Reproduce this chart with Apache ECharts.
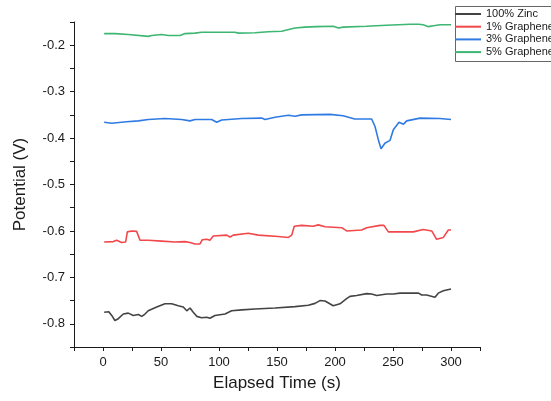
<!DOCTYPE html>
<html>
<head>
<meta charset="utf-8">
<script src="https://cdn.jsdelivr.net/npm/echarts@6/dist/echarts.min.js"></script>
<style>html,body{margin:0;padding:0;background:#fff;}#c{width:551px;height:401px;}</style>
</head>
<body>
<div id="c"></div>
<script>
var seriesNames = ['100% Zinc', '1% Graphene', '3% Graphene', '5% Graphene'];
var xTickLabels = [0, 50, 100, 150, 200, 250, 300];
var yTickLabels = [-0.8, -0.7, -0.6, -0.5, -0.4, -0.3, -0.2];

var zincT = [1, 5, 7.5, 10.3, 13.2, 17.5, 21.8, 26.1, 30.5, 33.4, 36.2, 39, 46.3, 53.4, 59.2, 64.9, 69.2, 72.2, 75, 77.8, 80.8, 85, 89.4, 92.2, 96.5, 105.2, 110.9, 119.6, 131, 148.3, 165.5, 177, 182.8, 187, 191.4, 198.5, 204.3, 210, 212.9, 218.7, 227.3, 231.6, 236, 244.5, 250.3, 256, 272, 274.7, 279, 286.2, 289, 293.4, 300];
var zincV = [-0.775, -0.774, -0.782, -0.793, -0.789, -0.779, -0.777, -0.782, -0.780, -0.784, -0.779, -0.772, -0.764, -0.757, -0.757, -0.761, -0.764, -0.772, -0.766, -0.775, -0.784, -0.787, -0.786, -0.788, -0.782, -0.779, -0.772, -0.770, -0.768, -0.766, -0.763, -0.760, -0.756, -0.750, -0.751, -0.761, -0.757, -0.746, -0.741, -0.739, -0.735, -0.736, -0.739, -0.736, -0.736, -0.734, -0.734, -0.738, -0.738, -0.743, -0.734, -0.729, -0.725];

var g1T = [1, 8.9, 11.8, 16, 19.5, 21, 24.7, 29, 31.9, 39, 50.6, 62, 70.7, 75, 79.3, 83.6, 85.6, 89.4, 92.2, 95.1, 106.6, 109.5, 112.3, 125.3, 133.9, 151, 159.8, 162.7, 164.9, 171.3, 181.3, 185.6, 191.4, 205.8, 210, 223, 227.3, 238.8, 242.2, 246, 256, 267.5, 276, 283.4, 287.6, 293.4, 297.7, 300];
var g1V = [-0.624, -0.623, -0.620, -0.625, -0.624, -0.602, -0.600, -0.601, -0.620, -0.620, -0.622, -0.624, -0.623, -0.625, -0.628, -0.628, -0.619, -0.618, -0.620, -0.611, -0.609, -0.613, -0.609, -0.605, -0.609, -0.612, -0.614, -0.609, -0.590, -0.588, -0.590, -0.587, -0.591, -0.593, -0.600, -0.598, -0.593, -0.588, -0.588, -0.602, -0.602, -0.602, -0.597, -0.600, -0.618, -0.614, -0.598, -0.598];

var g3T = [1, 7.5, 16, 20.4, 30.5, 39, 53.4, 67.8, 75, 79.3, 93.7, 98, 102.3, 119.6, 136.8, 139.7, 148.3, 159.8, 165.5, 171.3, 195.7, 207, 217, 231.6, 234.5, 237.4, 239.7, 243, 247.4, 250.3, 255.2, 259, 261.8, 273.3, 290.5, 300];
var g3V = [-0.366, -0.368, -0.366, -0.365, -0.363, -0.360, -0.358, -0.360, -0.363, -0.360, -0.360, -0.366, -0.361, -0.358, -0.357, -0.360, -0.355, -0.351, -0.353, -0.350, -0.349, -0.352, -0.359, -0.359, -0.375, -0.404, -0.423, -0.411, -0.405, -0.382, -0.366, -0.370, -0.363, -0.357, -0.358, -0.360];

var g5T = [1, 10.3, 21.8, 39, 42, 50.6, 56.3, 66.4, 70.7, 79.3, 85, 96.5, 113.8, 116.6, 131, 142.5, 154, 165.5, 174, 184, 198.5, 203, 207, 227, 244.5, 264.7, 272, 276, 280.5, 285, 290.5, 300];
var g5V = [-0.175, -0.175, -0.177, -0.181, -0.179, -0.177, -0.179, -0.179, -0.175, -0.174, -0.172, -0.172, -0.172, -0.174, -0.173, -0.171, -0.170, -0.163, -0.161, -0.160, -0.159, -0.163, -0.161, -0.159, -0.157, -0.155, -0.155, -0.156, -0.160, -0.158, -0.156, -0.156];

var colors = ['#444444', '#f0484b', '#2f7be3', '#3db672'];

function zip(t, v) { return t.map(function (x, i) { return [x, v[i]]; }); }
var allT = [zincT, g1T, g3T, g5T];
var allV = [zincV, g1V, g3V, g5V];

var chart = echarts.init(document.getElementById('c'), null, { renderer: 'canvas' });
var font = 'Liberation Sans, Arial, sans-serif';
var axisCommon = {
  axisLine: { show: true, onZero: false, lineStyle: { color: '#1a1a1a', width: 1 } },
  axisTick: { show: true, inside: false, length: 4, lineStyle: { color: '#1a1a1a', width: 1 } },
  splitLine: { show: false },
  nameLocation: 'middle',
  nameTextStyle: { fontFamily: font, fontSize: 17, color: '#1a1a1a' }
};

chart.setOption({
  animation: false,
  backgroundColor: '#ffffff',
  grid: { left: 74, right: 71, top: 22, bottom: 54, containLabel: false },
  graphic: [{
    type: 'rect', z: 1, silent: true,
    shape: { x: 455.5, y: 6.5, width: 130, height: 55 },
    style: { fill: 'none', stroke: '#666', lineWidth: 1 }
  }],
  legend: {
    data: seriesNames,
    orient: 'vertical',
    left: 453, top: 5,
    padding: [3, 4, 3, 2],
    itemGap: 0.7,
    itemWidth: 26, itemHeight: 2,
    itemTextGap: 2,
    icon: 'rect',
    borderWidth: 0,
    textStyle: { fontFamily: font, fontSize: 11, color: '#1a1a1a', lineHeight: 12 }
  },
  xAxis: Object.assign({}, axisCommon, {
    type: 'value', min: -25, max: 325, interval: 25,
    name: 'Elapsed Time (s)', nameGap: 28,
    axisLabel: {
      fontFamily: font, fontSize: 13, color: '#1a1a1a', margin: 9,
      showMinLabel: true, showMaxLabel: true,
      formatter: function (v) { return xTickLabels.indexOf(Math.round(v)) >= 0 && Math.abs(v - Math.round(v)) < 1e-6 ? String(Math.round(v)) : ''; }
    }
  }),
  yAxis: Object.assign({}, axisCommon, {
    type: 'value', min: -0.85, max: -0.15, interval: 0.05,
    name: 'Potential (V)', nameGap: 45,
    axisLabel: {
      fontFamily: font, fontSize: 13, color: '#1a1a1a', margin: 9,
      formatter: function (v) {
        var r = Math.round(v * 10) / 10;
        if (Math.abs(v - r) < 1e-6 && yTickLabels.indexOf(r) >= 0) return r.toFixed(1);
        return '';
      }
    }
  }),
  series: seriesNames.map(function (n, i) {
    return {
      name: n, type: 'line', data: zip(allT[i], allV[i]),
      showSymbol: false, symbol: 'none', smooth: false,
      lineStyle: { color: colors[i], width: 1.6 },
      itemStyle: { color: colors[i] }
    };
  })
});
</script>
</body>
</html>
